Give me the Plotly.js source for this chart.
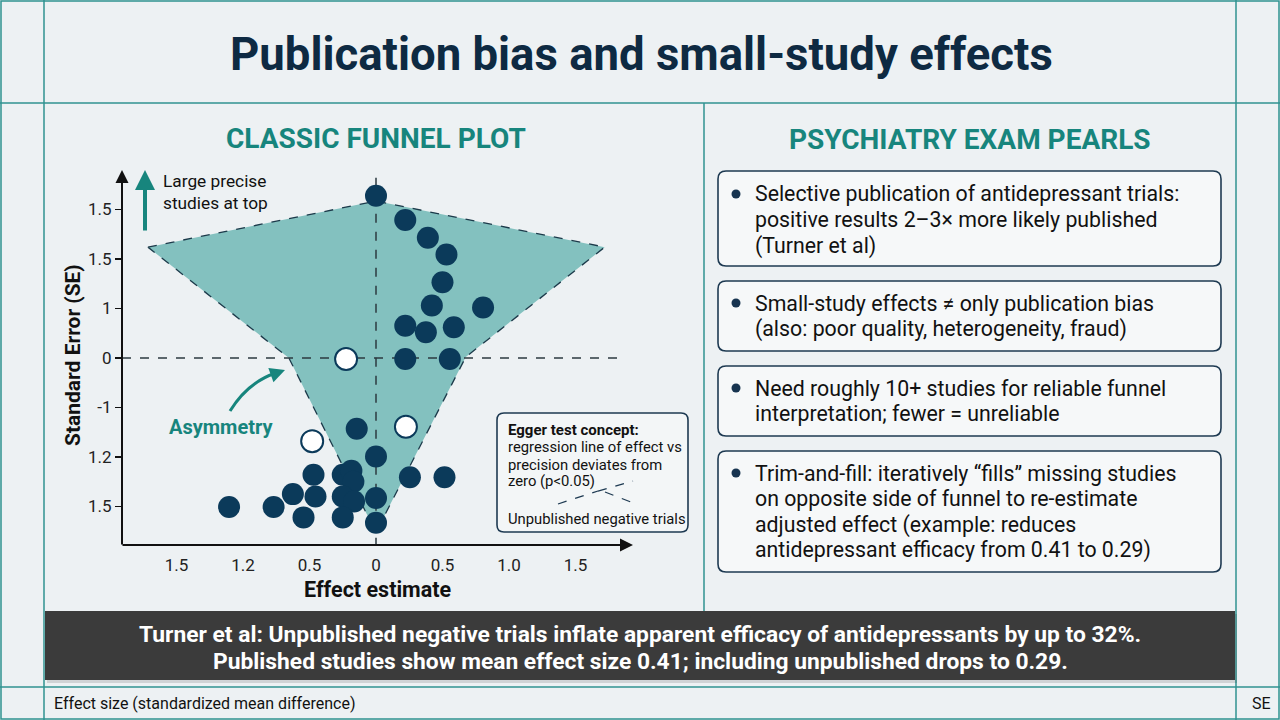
<!DOCTYPE html>
<html>
<head>
<meta charset="utf-8">
<script src="https://cdn.plot.ly/plotly-3.0.1.min.js"></script>
<style>html,body{margin:0;padding:0;background:#edf1f3;}#chart{width:1280px;height:720px;}</style>
</head>
<body>
<div id="chart"></div>
<script>
// ---------- DATA ----------
const xTickVals = [-3, -2, -1, 0, 1, 2, 3];
const xTickText = ['1.5', '1.2', '0.5', '0', '0.5', '1.0', '1.5'];
const yTickVals = [3, 2, 1, 0, -1, -2, -3];
const yTickText = ['1.5', '1.5', '1', '0', '-1', '1.2', '1.5'];

// published studies (filled)
const publishedX = [0.00, 0.44, 0.78, 1.06, 1.00, 0.84, 1.61, 0.44, 0.75, 1.17, 0.44, 1.11,
  -0.29, 0.00, -0.94, -0.50, -0.37, -0.34, 0.51, 1.03, -1.25, -0.91, -0.50, -0.33, 0.00,
  -2.21, -1.54, -1.09, -0.50, 0.00];
const publishedY = [3.28, 2.79, 2.43, 2.09, 1.53, 1.06, 1.02, 0.65, 0.52, 0.62, -0.02, -0.02,
  -1.43, -1.99, -2.36, -2.36, -2.28, -2.50, -2.41, -2.41, -2.75, -2.80, -2.80, -2.90, -2.83,
  -3.01, -3.01, -3.22, -3.22, -3.33];
// missing / unpublished studies (hollow)
const missingX = [-0.45, 0.45, -0.96];
const missingY = [-0.02, -1.39, -1.68];

// funnel region outline
const funnelX = [-3.43, 0.00, 3.44, 1.35, 0.11, -0.11, -1.31, -3.43];
const funnelY = [2.24, 3.17, 2.24, 0.02, -3.23, -3.23, 0.00, 2.24];

const titleText = 'Publication bias and small-study effects';
const leftHeader = 'CLASSIC FUNNEL PLOT';
const rightHeader = 'PSYCHIATRY EXAM PEARLS';
const pearls = [
  ['Selective publication of antidepressant trials:', 'positive results 2–3× more likely published', '(Turner et al)'],
  ['Small-study effects ≠ only publication bias', '(also: poor quality, heterogeneity, fraud)'],
  ['Need roughly 10+ studies for reliable funnel', 'interpretation; fewer = unreliable'],
  ['Trim-and-fill: iteratively “fills” missing studies', 'on opposite side of funnel to re-estimate', 'adjusted effect (example: reduces', 'antidepressant efficacy from 0.41 to 0.29)']
];
const bannerLines = ['Turner et al: Unpublished negative trials inflate apparent efficacy of antidepressants by up to 32%.',
  'Published studies show mean effect size 0.41; including unpublished drops to 0.29.'];
const eggerLines = ['<b>Egger test concept:</b>', 'regression line of effect vs', 'precision deviates from', 'zero (p&lt;0.05)'];
const eggerNote = 'Unpublished negative trials';
const footerLeft = 'Effect size (standardized mean difference)';
const footerRight = 'SE';

// ---------- LAYOUT HELPERS ----------
const W = 1280, H = 720;
const PX = x => x / W;
const PY = y => 1 - y / H;
const P = (x, y) => `${x / W},${1 - y / H}`;
function rr(x0, y0, x1, y1, r) {
  return `M ${P(x0 + r, y0)} L ${P(x1 - r, y0)} Q ${P(x1, y0)} ${P(x1, y0 + r)} L ${P(x1, y1 - r)} Q ${P(x1, y1)} ${P(x1 - r, y1)} L ${P(x0 + r, y1)} Q ${P(x0, y1)} ${P(x0, y1 - r)} L ${P(x0, y0 + r)} Q ${P(x0, y0)} ${P(x0 + r, y0)} Z`;
}
const TEAL = '#2f9290';
const TEALTXT = '#17857d';
const NAVY = '#0b3a5a';
const FONT = 'Roboto, "Liberation Sans", Arial, sans-serif';

const shapes = [];
function line(x0, y0, x1, y1, color, width, dash) {
  shapes.push({type: 'line', xref: 'paper', yref: 'paper', x0: PX(x0), y0: PY(y0), x1: PX(x1), y1: PY(y1),
    line: {color: color, width: width, dash: dash || 'solid'}, layer: 'below'});
}
function rect(x0, y0, x1, y1, fill, lc, lw) {
  shapes.push({type: 'rect', xref: 'paper', yref: 'paper', x0: PX(x0), y0: PY(y0), x1: PX(x1), y1: PY(y1),
    fillcolor: fill, line: {color: lc || 'rgba(0,0,0,0)', width: lw || 0}, layer: 'below'});
}
function rbox(x0, y0, x1, y1, r, fill, lc, lw) {
  shapes.push({type: 'path', xref: 'paper', yref: 'paper', path: rr(x0, y0, x1, y1, r),
    fillcolor: fill, line: {color: lc, width: lw}, layer: 'below'});
}

// frame
rect(1, 1, 1279, 719, 'rgba(0,0,0,0)', TEAL, 1.5);
line(44, 0, 44, 720, TEAL, 1.5);
line(1236, 0, 1236, 720, TEAL, 1.5);
line(0, 103, 1280, 103, TEAL, 1.5);
line(0, 687, 1280, 687, TEAL, 1.5);
line(704, 103, 704, 611, TEAL, 1.5);

// banner
rect(47, 614, 1237, 683, 'rgba(0,0,0,0.12)');
rect(45, 611, 1235, 680, '#3b3b3b');

// pearl boxes
const boxes = [[171, 266], [281, 351], [366, 436], [451, 572]];
const firstLineY = [194, 303, 388, 473];
boxes.forEach(b => {
  rbox(718, b[0], 1221, b[1], 8, '#f6f8f9', '#1e3a52', 1.6);
});
firstLineY.forEach(y => {
  shapes.push({type: 'circle', xref: 'paper', yref: 'paper', x0: PX(731.5), x1: PX(740.5), y0: PY(y - 4.5), y1: PY(y + 4.5),
    fillcolor: '#173450', line: {width: 0}, layer: 'below'});
});

// Egger box
rbox(497, 413, 688, 532, 7, '#f3f6f7', '#1e3a52', 1.6);
line(558, 504, 598, 491, '#1e3a52', 1.3, 'dash');
line(598, 491, 633, 481, '#1e3a52', 1.3, 'dash');
line(605, 492, 636, 504, '#1e3a52', 1.3, 'dash');

// asymmetry curved arrow
shapes.push({type: 'path', xref: 'paper', yref: 'paper', path: `M ${P(230, 411)} Q ${P(248, 382)} ${P(276, 373)}`,
  line: {color: TEALTXT, width: 3}, layer: 'above'});

// ---------- ANNOTATIONS ----------
const ann = [];
function txt(x, y, text, size, color, opts) {
  ann.push(Object.assign({xref: 'paper', yref: 'paper', x: PX(x), y: PY(y), text: text, showarrow: false,
    font: {family: FONT, size: size, color: color}, xanchor: 'center', yanchor: 'middle'}, opts || {}));
}
txt(641, 55, '<b>' + titleText + '</b>', 45.5, '#0e2a42');
txt(376, 138, '<b>' + leftHeader + '</b>', 28, TEALTXT);
txt(970, 139, '<b>' + rightHeader + '</b>', 28, TEALTXT);
pearls.forEach((lines, i) => {
  lines.forEach((l, j) => txt(753, firstLineY[i] + j * 25.8, l, 21.3, '#111111', {xanchor: 'left'}));
});
bannerLines.forEach((l, j) => txt(640, 634 + j * 27, '<b>' + l + '</b>', 22.8, '#ffffff'));
txt(52, 703, footerLeft, 16, '#111111', {xanchor: 'left'});
txt(1250, 703, footerRight, 16, '#111111', {xanchor: 'left'});

txt(161, 181, 'Large precise', 17.3, '#111111', {xanchor: 'left'});
txt(161, 203, 'studies at top', 17.3, '#111111', {xanchor: 'left'});
txt(221, 427, '<b>Asymmetry</b>', 20, TEALTXT);
const eggerY = [430, 447, 464.5, 481];
eggerLines.forEach((l, j) => txt(506, eggerY[j], l, j === 0 ? 15 : 14.8, '#111111', {xanchor: 'left'}));
txt(506, 519, eggerNote, 14.8, '#111111', {xanchor: 'left'});
txt(377, 589, '<b>Effect estimate</b>', 21.5, '#111111');
txt(73, 355, '<b>Standard Error (SE)</b>', 21, '#111111', {textangle: -90});

// arrows
function arrow(hx, hy, tx, ty, color, width, size) {
  ann.push({xref: 'paper', yref: 'paper', x: PX(hx), y: PY(hy), ax: tx - hx, ay: ty - hy, axref: 'pixel', ayref: 'pixel',
    text: '', showarrow: true, arrowhead: 2, arrowsize: size, arrowwidth: width, arrowcolor: color, standoff: 0, startstandoff: 0});
}
arrow(122, 170, 122, 546, '#111111', 2, 1.3);
arrow(633, 545, 121, 545, '#111111', 2, 1.3);
arrow(145, 170, 145, 232, TEALTXT, 4, 1);
arrow(285, 370, 274, 374, TEALTXT, 3, 1);

// ---------- TRACES ----------
const traces = [
  {x: funnelX, y: funnelY, type: 'scatter', mode: 'lines', fill: 'toself', fillcolor: '#83c1bf',
    line: {color: '#1c3a4a', width: 1.3, dash: 'dash'}, hoverinfo: 'skip', showlegend: false},
  {x: [-3.82, 3.74], y: [0, 0], type: 'scatter', mode: 'lines', line: {color: '#2d3a40', width: 1.5, dash: 'dash'}, showlegend: false, hoverinfo: 'skip'},
  {x: [0, 0], y: [3.64, -3.78], type: 'scatter', mode: 'lines', line: {color: '#2d3a40', width: 1.5, dash: 'dash'}, showlegend: false, hoverinfo: 'skip'},
  {x: missingX, y: missingY, type: 'scatter', mode: 'markers', name: 'Unpublished',
    marker: {size: 22, color: '#ffffff', line: {color: NAVY, width: 2}}, showlegend: false},
  {x: publishedX, y: publishedY, type: 'scatter', mode: 'markers', name: 'Published',
    marker: {size: 22, color: NAVY, line: {width: 0}}, showlegend: false}
];

const layout = {
  width: W, height: H, margin: {l: 0, r: 0, t: 0, b: 0},
  paper_bgcolor: '#edf1f3', plot_bgcolor: 'rgba(0,0,0,0)',
  showlegend: false,
  xaxis: {domain: [122 / W, 630 / W], range: [-3.82, 3.82], tickvals: xTickVals, ticktext: xTickText,
    showgrid: false, zeroline: false, showline: false, ticks: 'outside', ticklen: 5, tickcolor: 'rgba(0,0,0,0)',
    tickfont: {family: FONT, size: 17, color: '#222222'}, fixedrange: true},
  yaxis: {domain: [1 - 545 / H, 1 - 172 / H], range: [-3.778, 3.758], tickvals: yTickVals, ticktext: yTickText,
    showgrid: false, zeroline: false, showline: false, ticks: 'outside', ticklen: 6, tickwidth: 1.5, tickcolor: '#111111',
    tickfont: {family: FONT, size: 17, color: '#222222'}, fixedrange: true},
  shapes: shapes,
  annotations: ann
};

Plotly.newPlot('chart', traces, layout, {displayModeBar: false, staticPlot: true});
</script>
</body>
</html>
